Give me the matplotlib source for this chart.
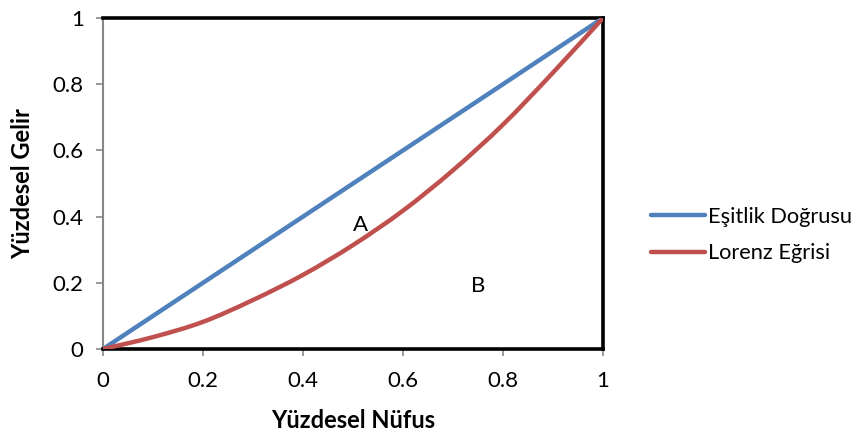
import matplotlib
matplotlib.use("Agg")
import matplotlib.pyplot as plt
from matplotlib.path import Path
from matplotlib.patches import PathPatch
from matplotlib.lines import Line2D
import numpy as np

# Data
population = [0, 0.1, 0.2, 0.3, 0.4, 0.5, 0.6, 0.7, 0.8, 0.9, 1.0]
equality = [0, 0.1, 0.2, 0.3, 0.4, 0.5, 0.6, 0.7, 0.8, 0.9, 1.0]
lorenz = [0, 0.036, 0.082, 0.148, 0.224, 0.314, 0.418, 0.540, 0.678, 0.835, 1.0]
ticks = [0, 0.2, 0.4, 0.6, 0.8, 1]
tick_labels = ["0", "0.2", "0.4", "0.6", "0.8", "1"]
series_names = ["Eşitlik Doğrusu", "Lorenz Eğrisi"]
annotations = [("A", 0.515, 0.375), ("B", 0.75, 0.19)]

BLUE = "#4F81BD"
RED = "#C0504D"

plt.rcParams['font.family'] = ['Lato', 'DejaVu Sans']

fig = plt.figure(figsize=(8.68, 4.37), dpi=100)
ax = fig.add_axes([0.1187, 0.2014, 0.576, 0.7574])


def smooth_path(xs, ys, t=1/6):
    """Excel-like smoothed line: cubic Bezier through the points (Catmull-Rom)."""
    pts = np.column_stack([xs, ys]).astype(float)
    n = len(pts)
    verts = [pts[0]]
    codes = [Path.MOVETO]
    for i in range(n - 1):
        p0 = pts[i - 1] if i > 0 else pts[i]
        p1 = pts[i]
        p2 = pts[i + 1]
        p3 = pts[i + 2] if i + 2 < n else pts[i + 1]
        c1 = p1 + (p2 - p0) * t
        c2 = p2 - (p3 - p1) * t
        verts += [c1, c2, p2]
        codes += [Path.CURVE4] * 3
    return Path(verts, codes)


ax.plot(population, equality, color=BLUE, lw=3.2, solid_capstyle='round', zorder=3)
ax.add_patch(PathPatch(smooth_path(population, lorenz), facecolor='none',
                       edgecolor=RED, lw=3.2, capstyle='round', joinstyle='round',
                       zorder=4))

for txt, x, y in annotations:
    ax.text(x, y, txt, fontsize=16, ha='center', va='center', color='black')

ax.set_xlim(0, 1)
ax.set_ylim(0, 1)
ax.set_xticks(ticks)
ax.set_xticklabels(tick_labels)
ax.set_yticks(ticks)
ax.set_yticklabels(tick_labels)
ax.tick_params(axis='both', direction='out', length=5, width=1.2, color='#878787',
               labelsize=16)
ax.tick_params(axis='x', pad=11)
ax.tick_params(axis='y', pad=9)

for s in ['top', 'right', 'bottom']:
    ax.spines[s].set_color('black')
    ax.spines[s].set_linewidth(2.6)
ax.spines['left'].set_color('#878787')
ax.spines['left'].set_linewidth(1.5)
for sp in ax.spines.values():
    sp.set_zorder(2)

ax.set_xlabel("Yüzdesel Nüfus", fontsize=17, fontweight='bold', labelpad=13)
ax.set_ylabel("Yüzdesel Gelir", fontsize=17, fontweight='bold', labelpad=13)

handles = [Line2D([], [], color=BLUE, lw=3.2, solid_capstyle='round'),
           Line2D([], [], color=RED, lw=3.2, solid_capstyle='round')]
fig.legend(handles, series_names, loc='center left', bbox_to_anchor=(0.727, 0.462),
           frameon=False, fontsize=15.7, handlelength=2.5, handletextpad=0.12,
           labelspacing=0.75)

fig.savefig("out.png", dpi=100)
